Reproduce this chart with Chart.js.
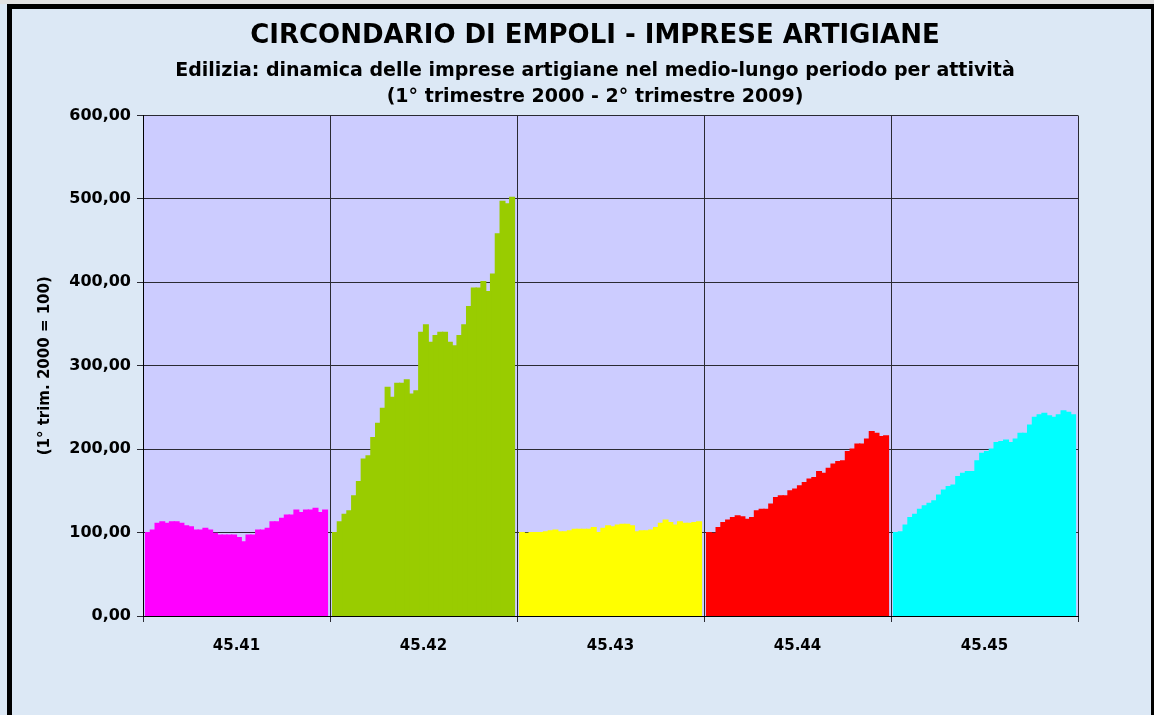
<!DOCTYPE html>
<html>
<head>
<meta charset="utf-8">
<title>Circondario di Empoli - Imprese artigiane</title>
<script src="https://cdn.jsdelivr.net/npm/chart.js@4.4.0/dist/chart.umd.min.js"></script>
<style>
  html, body { margin: 0; padding: 0; }
  body { width: 1154px; height: 715px; background: #dce8f5; position: relative; overflow: hidden; }
  #topStrip { position: absolute; left: 0; top: 0; width: 1154px; height: 4px; background: #e2e2e2; }
  #frame { position: absolute; left: 7px; top: 4px; width: 1147px; height: 730px; box-sizing: border-box;
           border-left: 5px solid #000; border-top: 5px solid #000; border-right: 3px solid #000; }
  #chart { position: absolute; left: 0; top: 0; }
</style>
</head>
<body>
<div id="topStrip"></div>
<div id="frame"></div>
<canvas id="chart" width="1154" height="715"></canvas>
<script>
// attivita (codici ATECO)
const categories = ['45.41', '45.42', '45.43', '45.44', '45.45'];
const groupColors = ['#ff00ff', '#99cc00', '#ffff00', '#ff0000', '#00ffff'];

// indice 1 trim. 2000 = 100, dal 1 trim. 2000 al 2 trim. 2009 (38 trimestri)
const a4541 = [100, 103, 111, 113, 111, 113, 113, 111, 108, 107, 103, 103, 105, 103, 99, 97, 97, 97, 97,
               94, 89, 97, 97, 103, 103, 105, 113, 113, 117, 121, 121, 127, 124, 127, 127, 129, 124, 127];
const a4542 = [100, 113, 122, 126, 144, 161, 188, 192, 214, 231, 249, 274, 262, 279, 279, 283, 266, 270, 340,
               349, 328, 336, 340, 340, 328, 324, 336, 349, 371, 393, 393, 401, 389, 410, 458, 497, 494, 502];
const a4543 = [100, 99, 100, 100, 100, 101, 102, 103, 101, 101, 102, 104, 104, 104, 104, 106, 100, 105, 108,
               107, 109, 110, 110, 108, 101, 102, 102, 103, 106, 111, 115, 112, 109, 113, 111, 111, 112, 113];
const a4544 = [100, 99, 106, 112, 115, 118, 120, 119, 116, 118, 126, 128, 128, 134, 142, 144, 144, 150, 152,
               156, 160, 164, 166, 173, 171, 177, 182, 185, 186, 197, 200, 206, 206, 212, 221, 219, 215, 216];
const a4545 = [100, 101, 109, 118, 122, 128, 132, 135, 138, 145, 151, 155, 157, 167, 171, 173, 173, 186, 195,
               197, 200, 208, 209, 211, 208, 212, 219, 219, 229, 238, 241, 243, 240, 238, 241, 246, 244, 241];

const yTicks = [0, 100, 200, 300, 400, 500, 600];

const FONT = "'DejaVu Sans', 'Liberation Sans', Arial, sans-serif";
Chart.defaults.font.family = FONT;
Chart.defaults.color = '#000';

// un dataset per trimestre, ogni barra nel suo gruppo di attivita
let trimestri = [];
for (let anno = 2000; anno <= 2009; anno++) {
  for (let t = 1; t <= 4; t++) {
    if (anno === 2009 && t > 2) break;
    trimestri.push(t + '° trim. ' + anno);
  }
}

const datasets = trimestri.map((lab, i) => ({
  label: lab,
  data: [a4541[i], a4542[i], a4543[i], a4544[i], a4545[i]],
  backgroundColor: groupColors,
  borderWidth: 0,
  inflateAmount: 0.6,
  barPercentage: 1.0,
  categoryPercentage: 0.973
}));

const plotBg = {
  id: 'plotBg',
  beforeDraw(chart) {
    const a = chart.chartArea;
    const ctx = chart.ctx;
    ctx.save();
    ctx.fillStyle = '#ccccff';
    ctx.fillRect(a.left, a.top, a.right - a.left, a.bottom - a.top);
    ctx.restore();
  }
};

const ctx = document.getElementById('chart').getContext('2d');
const chart = new Chart(ctx, {
  type: 'bar',
  data: { labels: categories, datasets: datasets },
  options: {
    responsive: false,
    animation: false,
    devicePixelRatio: 1,
    layout: { padding: { top: 0, left: 36, right: 0, bottom: 59 } },
    plugins: {
      legend: { display: false },
      tooltip: { enabled: false },
      title: {
        display: true,
        text: 'CIRCONDARIO DI EMPOLI - IMPRESE ARTIGIANE',
        color: '#000',
        font: { size: 26, weight: 'bold', lineHeight: 1.2 },
        padding: { top: 21, bottom: 6 }
      },
      subtitle: {
        display: true,
        text: ['Edilizia: dinamica delle imprese artigiane nel medio-lungo periodo per attività',
               '(1° trimestre 2000 - 2° trimestre 2009)'],
        color: '#000',
        font: { size: 19, weight: 'bold', lineHeight: 1.35 },
        padding: { top: 0, bottom: 6 }
      }
    },
    scales: {
      x: {
        grid: { color: '#2a2a33', lineWidth: 1, tickLength: 6, offset: true },
        border: { color: '#000' },
        ticks: { font: { size: 15, weight: 'bold', lineHeight: 1.2 }, padding: 15, color: '#000' },
        afterFit(s) { s.height = 40; }
      },
      y: {
        min: 0,
        max: 600,
        afterBuildTicks(s) { s.ticks = yTicks.map(v => ({ value: v })); },
        grid: { color: '#2a2a33', lineWidth: 1, tickLength: 6 },
        border: { color: '#000' },
        ticks: {
          font: { size: 16, weight: 'bold' },
          padding: 6,
          color: '#000',
          callback: v => v.toFixed(2).replace('.', ',')
        },
        title: {
          display: true,
          text: '(1° trim. 2000 = 100)',
          color: '#000',
          font: { size: 15, weight: 'bold', lineHeight: 1.2 },
          padding: { top: 0, bottom: 0 }
        },
        afterFit(s) { s.width = 107; }
      },
      // spazio a destra dell'area del grafico
      yRight: {
        type: 'linear',
        position: 'right',
        display: true,
        grid: { display: false, drawTicks: false },
        border: { display: false },
        ticks: { display: false },
        afterFit(s) { s.width = 76; }
      }
    }
  },
  plugins: [plotBg]
});
</script>
</body>
</html>
